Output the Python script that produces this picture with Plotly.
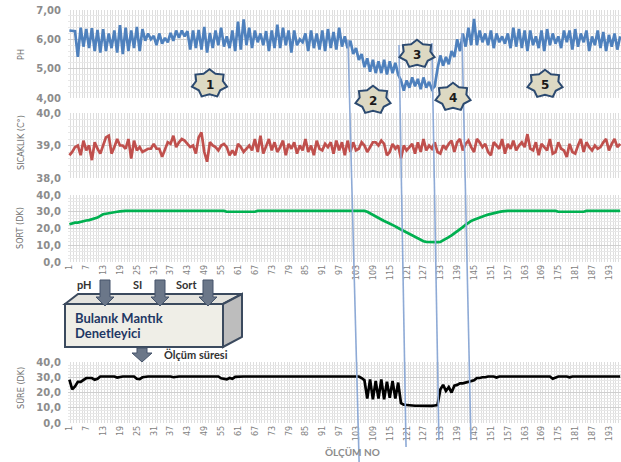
import math
import plotly.graph_objects as go

W, H = 621, 462
ML, MR, MT, MB = 68, 0, 10, 39
PW = W - ML - MR
PHT = H - MT - MB


def px(X):
    return (X - ML) / PW


def py(Y):
    return (H - MB - Y) / PHT


# ---------------- data ----------------
olcum_no = list(range(1, 198))

ph = [
    6.30, 6.29, 6.28, 5.40, 6.40, 5.75, 6.35, 5.70, 6.38, 5.60,
    6.32, 5.55, 6.35, 5.60, 6.20, 5.70, 6.30, 5.55, 6.48, 5.50,
    6.40, 5.60, 6.30, 5.70, 6.42, 5.60, 6.35, 5.95, 6.20, 6.00,
    6.12, 5.80, 6.20, 5.85, 6.05, 5.90, 6.22, 5.95, 6.30, 6.05,
    6.30, 6.10, 6.28, 5.65, 6.30, 5.70, 6.32, 5.65, 6.42, 5.55,
    6.22, 5.70, 6.30, 5.80, 6.40, 5.75, 6.10, 5.70, 6.30, 5.60,
    6.60, 5.65, 6.68, 5.80, 6.40, 5.70, 6.30, 5.90, 6.20, 5.80,
    6.28, 5.60, 6.30, 5.70, 6.50, 5.70, 6.40, 5.80, 6.30, 5.55,
    6.30, 5.80, 6.00, 5.90, 6.20, 5.60, 6.30, 5.70, 6.20, 5.65,
    6.30, 5.60, 6.35, 5.70, 6.25, 5.65, 6.40, 5.75, 6.10, 5.70,
    5.95, 5.50, 5.70, 5.30, 5.50, 5.05, 5.35, 4.90, 5.30, 4.85,
    5.25, 4.85, 5.30, 4.80, 5.25, 4.85, 5.20, 4.80, 4.60, 4.25,
    4.60, 4.35, 4.70, 4.40, 4.65, 4.30, 4.70, 4.35, 4.55, 4.30,
    4.40, 5.00, 5.45, 5.10, 5.40, 5.15, 5.60, 5.40, 6.00, 5.60,
    6.20, 5.75, 6.40, 5.80, 6.70, 5.80, 6.30, 5.90, 6.20, 5.80,
    6.30, 5.70, 6.20, 5.90, 6.10, 5.85, 6.20, 5.70, 6.40, 5.75,
    6.35, 5.70, 6.30, 5.60, 6.30, 5.80, 6.10, 5.70, 6.30, 5.60,
    6.35, 5.80, 6.20, 5.85, 6.10, 5.70, 6.30, 5.90, 6.30, 5.65,
    6.35, 5.75, 6.20, 5.90, 6.30, 5.60, 6.10, 5.80, 6.30, 5.70,
    6.25, 5.60, 6.15, 5.75, 6.20, 5.65, 6.10,
]

sicaklik = [
    38.70, 38.80, 38.95, 39.00, 38.70, 39.15, 38.85, 39.00, 38.55, 39.10,
    38.90, 38.75, 39.00, 39.25, 39.30, 38.75, 38.95, 39.20, 39.00, 39.00,
    38.90, 39.20, 38.60, 39.15, 38.85, 38.95, 38.80, 38.85, 38.90, 38.90,
    39.05, 38.90, 38.90, 38.65, 38.90, 39.10, 39.05, 39.30, 38.95, 39.10,
    39.20, 39.15, 39.05, 38.95, 39.00, 38.75, 39.25, 39.40, 38.80, 38.50,
    39.10, 39.00, 38.95, 38.85, 39.00, 39.05, 38.95, 38.70, 38.85, 38.70,
    39.05, 38.95, 38.80, 38.90, 39.00, 38.85, 39.20, 38.80, 39.30, 38.75,
    39.00, 39.20, 38.85, 39.10, 38.80, 38.95, 39.15, 38.70, 39.05, 38.90,
    39.10, 38.75, 39.00, 38.85, 39.20, 38.80, 39.00, 38.70, 39.15, 38.90,
    38.85, 39.05, 38.95, 39.10, 38.75, 39.15, 38.85, 39.10, 38.70, 39.15,
    38.80, 39.10, 38.85, 38.90, 39.10, 39.00, 38.80, 38.95, 39.10, 39.10,
    39.00, 39.15, 39.05, 38.70, 38.80, 39.05, 38.90, 39.00, 38.60, 39.00,
    38.85, 38.95, 39.05, 38.75, 39.10, 38.80, 39.20, 38.85, 39.00, 38.90,
    39.10, 38.80, 38.75, 39.00, 38.90, 39.05, 39.15, 38.80, 39.10, 39.20,
    38.85, 39.05, 39.15, 38.95, 38.80, 39.20, 39.10, 38.95, 39.05, 38.80,
    38.70, 39.10, 39.00, 38.90, 39.20, 38.75, 39.05, 38.90, 39.15, 38.85,
    39.00, 39.10, 38.95, 39.35, 38.90, 38.85, 39.10, 38.70, 39.05, 38.95,
    38.85, 39.20, 38.75, 38.80, 39.10, 38.90, 38.85, 38.65, 39.05, 38.80,
    38.75, 39.00, 39.20, 38.80, 39.10, 38.95, 38.85, 39.00, 38.90, 38.95,
    39.10, 39.20, 38.85, 39.05, 39.20, 38.95, 39.05,
]

sort_dk = [
    22.5, 23.0, 23.5, 23.5, 24.0, 24.5, 24.8, 25.0, 25.5, 26.0,
    26.5, 27.5, 28.5, 28.8, 29.2, 29.6, 30.0, 30.0, 30.2, 30.5,
    30.5, 30.5, 30.5, 30.5, 30.5, 30.5, 30.5, 30.5, 30.5, 30.5,
    30.5, 30.5, 30.5, 30.5, 30.5, 30.5, 30.5, 30.5, 30.5, 30.5,
    30.5, 30.5, 30.5, 30.5, 30.5, 30.5, 30.5, 30.5, 30.5, 30.5,
    30.5, 30.5, 30.5, 30.5, 30.5, 30.5, 30.0, 30.0, 30.0, 30.0,
    30.0, 30.0, 30.0, 30.0, 30.0, 30.0, 30.0, 30.5, 30.5, 30.5,
    30.5, 30.5, 30.5, 30.5, 30.5, 30.5, 30.5, 30.5, 30.5, 30.5,
    30.5, 30.5, 30.5, 30.5, 30.5, 30.5, 30.5, 30.5, 30.5, 30.5,
    30.5, 30.5, 30.5, 30.5, 30.5, 30.5, 30.5, 30.5, 30.5, 30.5,
    30.5, 30.5, 30.5, 30.5, 30.5, 30.5, 30.0, 29.0, 28.0, 27.0,
    26.2, 25.3, 24.5, 23.7, 23.0, 22.2, 21.3, 20.3, 19.4, 18.5,
    17.5, 16.5, 15.6, 14.7, 13.8, 13.0, 12.4, 12.0, 11.9, 11.8,
    11.8, 11.9, 12.0, 12.8, 13.8, 14.8, 15.9, 17.0, 18.2, 19.4,
    20.8, 22.2, 23.5, 24.5, 25.3, 26.0, 26.7, 27.3, 27.8, 28.3,
    28.8, 29.2, 29.6, 29.9, 30.2, 30.5, 30.5, 30.5, 30.5, 30.5,
    30.5, 30.5, 30.5, 30.5, 30.5, 30.5, 30.5, 30.5, 30.5, 30.5,
    30.5, 30.5, 30.5, 30.5, 30.0, 30.0, 30.0, 30.0, 30.0, 30.0,
    30.0, 30.0, 30.0, 30.0, 30.5, 30.5, 30.5, 30.5, 30.5, 30.5,
    30.5, 30.5, 30.5, 30.5, 30.5, 30.5, 30.5,
]

sure_dk = [
    28.5, 22.0, 24.0, 27.0, 27.0, 28.5, 29.5, 29.5, 29.5, 28.3,
    29.0, 30.5, 30.5, 30.5, 30.5, 30.5, 30.5, 29.8, 30.3, 30.5,
    30.5, 30.5, 30.5, 30.5, 29.0, 28.8, 30.0, 30.5, 30.5, 30.5,
    30.5, 30.5, 30.5, 30.5, 30.5, 30.5, 30.5, 30.0, 30.5, 30.5,
    30.5, 30.5, 30.5, 30.5, 30.5, 30.5, 30.5, 30.5, 30.5, 30.5,
    30.5, 30.5, 30.5, 30.5, 29.3, 29.0, 28.6, 29.5, 29.0, 30.3,
    30.5, 30.5, 30.5, 30.5, 30.5, 30.5, 30.5, 30.5, 30.5, 30.5,
    30.5, 30.5, 30.5, 30.5, 30.5, 30.5, 30.5, 30.5, 30.5, 30.5,
    30.5, 30.5, 30.5, 30.5, 30.5, 30.5, 30.5, 30.5, 30.5, 30.5,
    30.5, 30.5, 30.5, 30.5, 30.5, 30.5, 30.5, 30.5, 30.5, 30.5,
    30.5, 30.5, 30.5, 30.5, 29.5, 28.0, 16.0, 28.5, 15.5, 27.5,
    16.0, 28.5, 15.5, 27.0, 16.5, 27.5, 16.0, 26.5, 13.0, 12.0,
    11.8, 11.5, 11.5, 11.3, 11.3, 11.2, 11.2, 11.2, 11.2, 11.2,
    11.5, 11.8, 22.0, 25.0, 21.0, 23.5, 20.0, 24.5, 25.0, 26.0,
    26.0, 26.5, 27.5, 28.0, 28.0, 29.5, 29.5, 30.0, 30.0, 30.5,
    30.5, 30.5, 29.8, 30.5, 30.5, 30.5, 30.5, 30.5, 30.5, 30.5,
    30.5, 30.5, 30.5, 30.5, 30.5, 30.5, 30.5, 30.5, 30.5, 30.5,
    30.5, 30.5, 29.0, 29.8, 30.5, 30.5, 30.5, 30.5, 29.9, 30.5,
    30.5, 30.5, 30.5, 30.5, 30.5, 30.5, 30.5, 30.5, 30.5, 30.5,
    30.5, 30.5, 30.5, 30.5, 30.5, 30.5, 30.5,
]

axis_titles = ["PH", "SICAKLIK (C°)", "SORT (DK)", "SÜRE (DK)"]
star_labels = ["1", "2", "3", "4", "5"]
input_labels = ["pH", "SI", "Sort"]

# ---------------- figure ----------------
fig = go.Figure()

series = [
    (ph, "#4f81bd", "y"),
    (sicaklik, "#c0504d", "y2"),
    (sort_dk, "#00b050", "y3"),
    (sure_dk, "#000000", "y4"),
]
xaxes = ["x", "x2", "x3", "x4"]
for (vals, col, yax), xax in zip(series, xaxes):
    fig.add_trace(go.Scatter(
        x=olcum_no, y=vals, mode="lines", xaxis=xax, yaxis=yax,
        line=dict(color=col, width=2.7), showlegend=False, hoverinfo="skip",
    ))

tick_font = dict(family="DejaVu Sans, Verdana, sans-serif", size=10,
                 color="#8c8c8c", weight="bold")
xtick_font = dict(family="Liberation Sans Narrow, DejaVu Sans Condensed, Arial Narrow, sans-serif",
                  size=9, color="#7f7f7f")

domains = [
    (py(98), py(10)),
    (py(178), py(113)),
    (py(262), py(195)),
    (py(423), py(362)),
]
yranges = [[4, 7], [38, 40], [0, 40], [0, 40]]
ydticks = [1, 1, 10, 10]
yfmts = [".2f", ".1f", ".1f", ".1f"]
show_xlabels = [False, False, True, True]

layout = dict(
    template="none",
    width=W, height=H,
    margin=dict(l=ML, r=MR, t=MT, b=MB, autoexpand=False),
    paper_bgcolor="white", plot_bgcolor="white",
    separators=",.",
    showlegend=False,
)
for i in range(4):
    sx = "" if i == 0 else str(i + 1)
    layout["xaxis" + sx] = dict(
        anchor="y" + sx, domain=[0, 1], range=[0.5, 197.3], automargin=False,
        tick0=1, dtick=6, tickangle=-90, showticklabels=show_xlabels[i],
        tickfont=xtick_font, showgrid=False, zeroline=False,
        ticks="", showline=False,
        minor=dict(tick0=0.5, dtick=1, showgrid=True, gridcolor="#dedede", gridwidth=1),
    )
    layout["yaxis" + sx] = dict(
        anchor="x" + sx, domain=list(domains[i]), range=yranges[i], automargin=False,
        dtick=ydticks[i], tickformat=yfmts[i], tickfont=tick_font,
        ticklabelstandoff=6,
        showgrid=True, gridcolor="#cfcfcf", gridwidth=1, zeroline=False,
        ticks="", showline=False,
        minor=dict(nticks=5, showgrid=True, gridcolor="#e8e8e8", gridwidth=1),
    )
fig.update_layout(**layout)

shapes = []
annotations = []


def note(X, Y, text, font, angle=0, xanchor="center"):
    annotations.append(dict(x=px(X), y=py(Y), xref="paper", yref="paper",
                            xanchor=xanchor, yanchor="middle", text=text,
                            textangle=angle, showarrow=False, font=font))


# slanted guide lines (bottom ends at measurement numbers 103, 121, 133, 145)
guide_top_x = [100.15, 118.3, 130.0, 140.7]
guide_top_y = [40, 45, 43, 33]
guide_bot_x = [104.1, 120.8, 132.5, 143.9]
guide_bot_y = [462, 447, 440, 440]
for xt, yt, xb, yb in zip(guide_top_x, guide_top_y, guide_bot_x, guide_bot_y):
    shapes.append(dict(type="line", xref="x", yref="paper",
                       x0=xt, y0=py(yt), x1=xb, y1=py(yb),
                       line=dict(color="#8eaad6", width=1.6), layer="above"))


def poly_path(pts):
    s = "M " + " L ".join(f"{px(a):.5f},{py(b):.5f}" for a, b in pts) + " Z"
    return s


# 7-point stars with numbers
star_centers = [(209.5, 83.5), (373, 100), (417, 54), (453, 97), (545, 84)]
for (cx, cy), lab in zip(star_centers, star_labels):
    pts = []
    for k in range(14):
        ang = math.radians(90 - k * 180 / 7)
        r = 1.0 if k % 2 == 0 else 0.76
        pts.append((cx + 18 * r * math.cos(ang), cy - 14.3 * r * math.sin(ang)))
    shapes.append(dict(type="path", xref="paper", yref="paper", path=poly_path(pts),
                       fillcolor="#ddd9c3", line=dict(color="#2c4a70", width=2),
                       layer="above"))
    note(cx, cy + 1, f"<b>{lab}</b>",
         dict(family="DejaVu Sans, sans-serif", size=12, color="#1a1a1a"))

# 3D box
front = [(65, 304), (223, 304), (223, 347), (65, 347)]
top = [(65, 304), (78, 294), (242, 294), (223, 304)]
side = [(223, 304), (242, 294), (242, 337), (223, 347)]
for pts, col in [(top, "#e4e3de"), (side, "#bdbdbd"), (front, "#efeee7")]:
    shapes.append(dict(type="path", xref="paper", yref="paper", path=poly_path(pts),
                       fillcolor=col, line=dict(color="#3b4a5e", width=2), layer="above"))


def down_arrow(cx, y_top, y_head, y_tip, shw, hhw):
    return [(cx - shw, y_top), (cx + shw, y_top), (cx + shw, y_head), (cx + hhw, y_head),
            (cx, y_tip), (cx - hhw, y_head), (cx - shw, y_head)]


for cx in [105, 160, 208]:
    shapes.append(dict(type="path", xref="paper", yref="paper",
                       path=poly_path(down_arrow(cx, 280, 297, 306, 5, 9)),
                       fillcolor="#6b7789", line=dict(color="#44536a", width=1), layer="above"))
shapes.append(dict(type="path", xref="paper", yref="paper",
                   path=poly_path(down_arrow(142, 348, 353, 362, 5, 10)),
                   fillcolor="#6b7789", line=dict(color="#44536a", width=1), layer="above"))

box_font = dict(family="Lato, Open Sans, sans-serif", size=13, color="#1f3864")
note(73, 318, "<b>Bulanık Mantık</b>", box_font, xanchor="left")
note(73, 333, "<b>Denetleyici</b>", box_font, xanchor="left")

lab_font = dict(family="Lato, Open Sans, sans-serif", size=11, color="#333333")
for cx, lab in zip([84, 137, 186], input_labels):
    note(cx, 284, f"<b>{lab}</b>", lab_font)
note(196, 354, "<b>Ölçüm süresi</b>", lab_font)

# axis titles
title_font = dict(family="Liberation Sans Narrow, DejaVu Sans Condensed, Arial Narrow, sans-serif",
                  size=9, color="#707070")
title_pos = [(21, 55), (21, 143), (20, 228), (21, 388)]
for (tx, ty), t in zip(title_pos, axis_titles):
    note(tx, ty, t, title_font, angle=-90)

note(352, 452, "<b>ÖLÇÜM NO</b>",
     dict(family="Lato, Open Sans, sans-serif", size=10, color="#8c8c8c"))

fig.update_layout(shapes=shapes, annotations=annotations)
fig.write_html("out.html", config={"displayModeBar": False},
               post_script="document.body.style.margin='0';document.body.style.overflow='hidden';")
